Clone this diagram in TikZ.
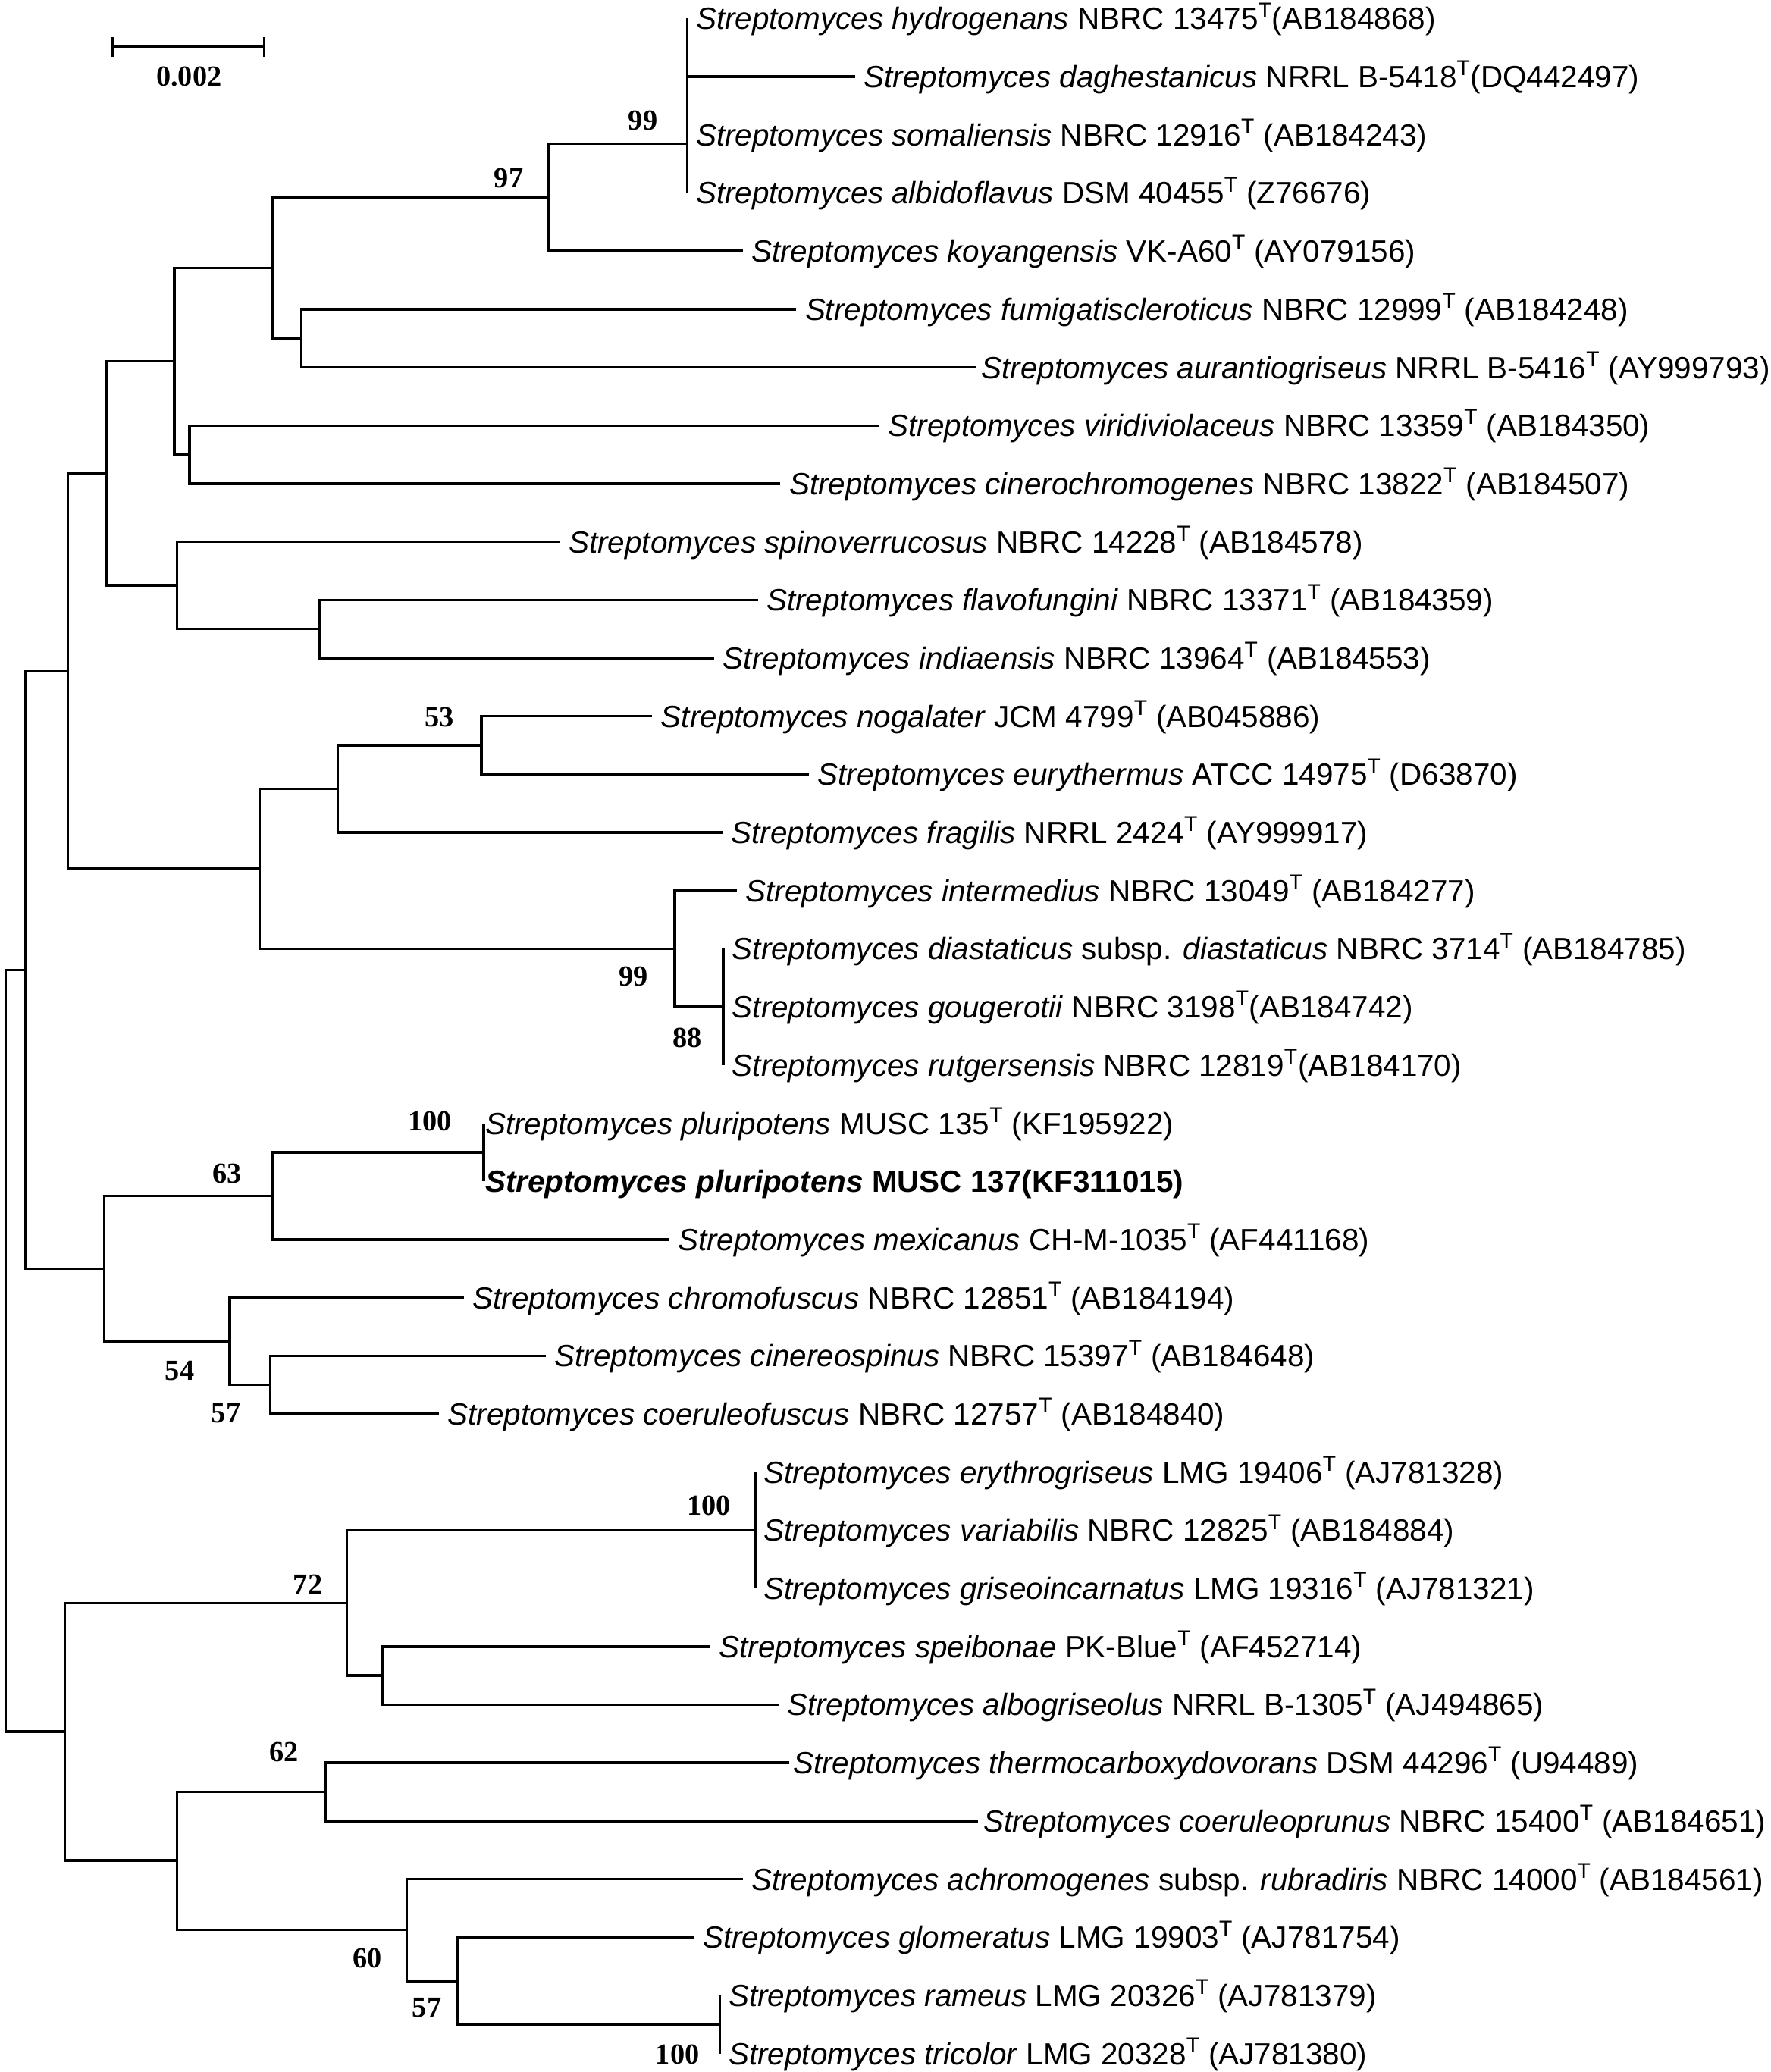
\documentclass[tikz,border=0pt]{standalone}
\usepackage{fontspec}
\setmainfont{Liberation Sans}
\newfontfamily\bsfont{Liberation Serif}
\newcommand\leafnode[5]{%
  \coordinate (t#1) at (#2,#3);
  \node[leaf] (L#1) at (#2+#4,#3+8.3) {#5};}
\begin{document}
\begin{tikzpicture}[x=1pt,y=-1pt,
  br/.style={line width=2pt},
  leaf/.style={anchor=base west, inner sep=0pt, font=\fontsize{23.2}{26}\selectfont},
  boot/.style={inner sep=0pt, font=\bsfont\bfseries\fontsize{22}{24}\selectfont}]
\useasboundingbox (0,0) rectangle (1340,1568);
% scale bar
\coordinate (sbL) at (85.6,35.3);
\coordinate (sbR) at (199.9,35.3);
\draw[br] (sbL) -- (sbR);
\draw[br] ([yshift=7.2pt]sbL) -- ([yshift=-7.6pt]sbL);
\draw[br] ([yshift=7.2pt]sbR) -- ([yshift=-7.6pt]sbR);
\node[boot] (scale) at (143,58) {0.002};
% internal nodes
\coordinate (nA) at (520,108.8);
\coordinate (nB) at (415,149.4);
\coordinate (nC) at (228,256);
\coordinate (nD) at (206,202.7);
\coordinate (nE) at (143.4,344);
\coordinate (nF) at (132,273.4);
\coordinate (nG) at (242,476);
\coordinate (nH) at (134,443);
\coordinate (nI) at (81,358.2);
\coordinate (nJ) at (364.2,564);
\coordinate (nK) at (255.5,597);
\coordinate (nL) at (547.4,762);
\coordinate (nM) at (510.6,718);
\coordinate (nN) at (196.5,657.5);
\coordinate (nO) at (51.4,507.9);
\coordinate (nP) at (366,872);
\coordinate (nQ) at (205.9,905);
\coordinate (nR) at (204.6,1048);
\coordinate (nS) at (173.8,1015);
\coordinate (nT) at (78.8,960);
\coordinate (nU) at (19.3,734);
\coordinate (nV) at (571.4,1158);
\coordinate (nW) at (289.8,1268);
\coordinate (nX) at (262.4,1213);
\coordinate (nY) at (246.5,1356);
\coordinate (nZa) at (544.8,1532);
\coordinate (nZb) at (346.3,1499);
\coordinate (nZc) at (307.7,1460.5);
\coordinate (nZd) at (134,1408);
\coordinate (nZe) at (49.2,1310.5);
\coordinate (root) at (4.3,1022);
% leaves
\leafnode{1}{520}{14}{6.5}{\textit{Streptomyces hydrogenans} NBRC 13475\textsuperscript{T}(AB184868)}
\leafnode{2}{647}{58}{6.5}{\textit{Streptomyces daghestanicus} NRRL B-5418\textsuperscript{T}(DQ442497)}
\leafnode{3}{520}{102}{6.5}{\textit{Streptomyces somaliensis} NBRC 12916\textsuperscript{T} (AB184243)}
\leafnode{4}{520}{146}{6.5}{\textit{Streptomyces albidoflavus} DSM 40455\textsuperscript{T} (Z76676)}
\leafnode{5}{562}{190}{6.5}{\textit{Streptomyces koyangensis} VK-A60\textsuperscript{T} (AY079156)}
\leafnode{6}{602.6}{234}{6.5}{\textit{Streptomyces fumigatiscleroticus} NBRC 12999\textsuperscript{T} (AB184248)}
\leafnode{7}{739}{278}{3.5}{\textit{Streptomyces aurantiogriseus} NRRL B-5416\textsuperscript{T} (AY999793)}
\leafnode{8}{665.5}{322}{6.5}{\textit{Streptomyces viridiviolaceus} NBRC 13359\textsuperscript{T} (AB184350)}
\leafnode{9}{590.6}{366}{6.5}{\textit{Streptomyces cinerochromogenes} NBRC 13822\textsuperscript{T} (AB184507)}
\leafnode{10}{423.7}{410}{6.5}{\textit{Streptomyces spinoverrucosus} NBRC 14228\textsuperscript{T} (AB184578)}
\leafnode{11}{573.5}{454}{6.5}{\textit{Streptomyces flavofungini} NBRC 13371\textsuperscript{T} (AB184359)}
\leafnode{12}{540.6}{498}{6.5}{\textit{Streptomyces indiaensis} NBRC 13964\textsuperscript{T} (AB184553)}
\leafnode{13}{493.5}{542}{6.5}{\textit{Streptomyces nogalater} JCM 4799\textsuperscript{T} (AB045886)}
\leafnode{14}{612}{586}{6.5}{\textit{Streptomyces eurythermus} ATCC 14975\textsuperscript{T} (D63870)}
\leafnode{15}{546.6}{630}{6.5}{\textit{Streptomyces fragilis} NRRL 2424\textsuperscript{T} (AY999917)}
\leafnode{16}{557.7}{674}{6.5}{\textit{Streptomyces intermedius} NBRC 13049\textsuperscript{T} (AB184277)}
\leafnode{17}{547.4}{718}{6.5}{\textit{Streptomyces diastaticus} subsp. \textit{diastaticus} NBRC 3714\textsuperscript{T} (AB184785)}
\leafnode{18}{547.4}{762}{6.5}{\textit{Streptomyces gougerotii} NBRC 3198\textsuperscript{T}(AB184742)}
\leafnode{19}{547.4}{806}{6.5}{\textit{Streptomyces rutgersensis} NBRC 12819\textsuperscript{T}(AB184170)}
\leafnode{20}{366}{850}{1}{\textit{Streptomyces pluripotens} MUSC 135\textsuperscript{T} (KF195922)}
\leafnode{21}{366}{894}{1}{\textbf{\textit{Streptomyces pluripotens} MUSC 137(KF311015)}}
\leafnode{22}{506.3}{938}{6.5}{\textit{Streptomyces mexicanus} CH-M-1035\textsuperscript{T} (AF441168)}
\leafnode{23}{351}{982}{6.5}{\textit{Streptomyces chromofuscus} NBRC 12851\textsuperscript{T} (AB184194)}
\leafnode{24}{413}{1026}{6.5}{\textit{Streptomyces cinereospinus} NBRC 15397\textsuperscript{T} (AB184648)}
\leafnode{25}{332}{1070}{6.5}{\textit{Streptomyces coeruleofuscus} NBRC 12757\textsuperscript{T} (AB184840)}
\leafnode{26}{571.4}{1114}{6.5}{\textit{Streptomyces erythrogriseus} LMG 19406\textsuperscript{T} (AJ781328)}
\leafnode{27}{571.4}{1158}{6.5}{\textit{Streptomyces variabilis} NBRC 12825\textsuperscript{T} (AB184884)}
\leafnode{28}{571.4}{1202}{6.5}{\textit{Streptomyces griseoincarnatus} LMG 19316\textsuperscript{T} (AJ781321)}
\leafnode{29}{537.6}{1246}{6.5}{\textit{Streptomyces speibonae} PK-Blue\textsuperscript{T} (AF452714)}
\leafnode{30}{589}{1290}{6.5}{\textit{Streptomyces albogriseolus} NRRL B-1305\textsuperscript{T} (AJ494865)}
\leafnode{31}{597}{1334}{3}{\textit{Streptomyces thermocarboxydovorans} DSM 44296\textsuperscript{T} (U94489)}
\leafnode{32}{740}{1378}{4}{\textit{Streptomyces coeruleoprunus} NBRC 15400\textsuperscript{T} (AB184651)}
\leafnode{33}{562}{1422}{6.5}{\textit{Streptomyces achromogenes} subsp. \textit{rubradiris} NBRC 14000\textsuperscript{T} (AB184561)}
\leafnode{34}{525.2}{1466}{6.5}{\textit{Streptomyces glomeratus} LMG 19903\textsuperscript{T} (AJ781754)}
\leafnode{35}{544.8}{1510}{6.5}{\textit{Streptomyces rameus} LMG 20326\textsuperscript{T} (AJ781379)}
\leafnode{36}{544.8}{1554}{6.5}{\textit{Streptomyces tricolor} LMG 20328\textsuperscript{T} (AJ781380)}
% branches
\foreach \p/\c in {root/nU, root/nZe, nU/nO, nU/nT, nO/nI, nO/nN, nI/nF, nI/nH,
  nF/nD, nF/nE, nD/nB, nD/nC, nB/nA, nB/t5, nA/t1, nA/t2, nA/t3, nA/t4,
  nC/t6, nC/t7, nE/t8, nE/t9, nH/t10, nH/nG, nG/t11, nG/t12,
  nN/nK, nN/nM, nK/nJ, nK/t15, nJ/t13, nJ/t14, nM/t16, nM/nL, nL/t17, nL/t18, nL/t19,
  nT/nQ, nT/nS, nQ/nP, nQ/t22, nP/t20, nP/t21, nS/t23, nS/nR, nR/t24, nR/t25,
  nZe/nX, nZe/nZd, nX/nV, nX/nW, nV/t26, nV/t27, nV/t28, nW/t29, nW/t30,
  nZd/nY, nZd/nZc, nY/t31, nY/t32, nZc/t33, nZc/nZb, nZb/t34, nZb/nZa, nZa/t35, nZa/t36}
  \draw[br] (\p) |- (\c);
% bootstrap values
\node[boot] (b1) at (486.6,91) {99};
\node[boot] (b2) at (385,135) {97};
\node[boot] (b3) at (332.6,542.6) {53};
\node[boot] (b4) at (479.4,739) {99};
\node[boot] (b5) at (520,785.6) {88};
\node[boot] (b6) at (325.3,848.7) {100};
\node[boot] (b7) at (172,888.4) {63};
\node[boot] (b8) at (136,1037.4) {54};
\node[boot] (b9) at (171,1069.4) {57};
\node[boot] (b10) at (536.3,1139.4) {100};
\node[boot] (b11) at (233,1198.9) {72};
\node[boot] (b12) at (214.9,1325.8) {62};
\node[boot] (b13) at (278.2,1482) {60};
\node[boot] (b14) at (323.1,1519.5) {57};
\node[boot] (b15) at (512.7,1554.5) {100};
\end{tikzpicture}
\end{document}
